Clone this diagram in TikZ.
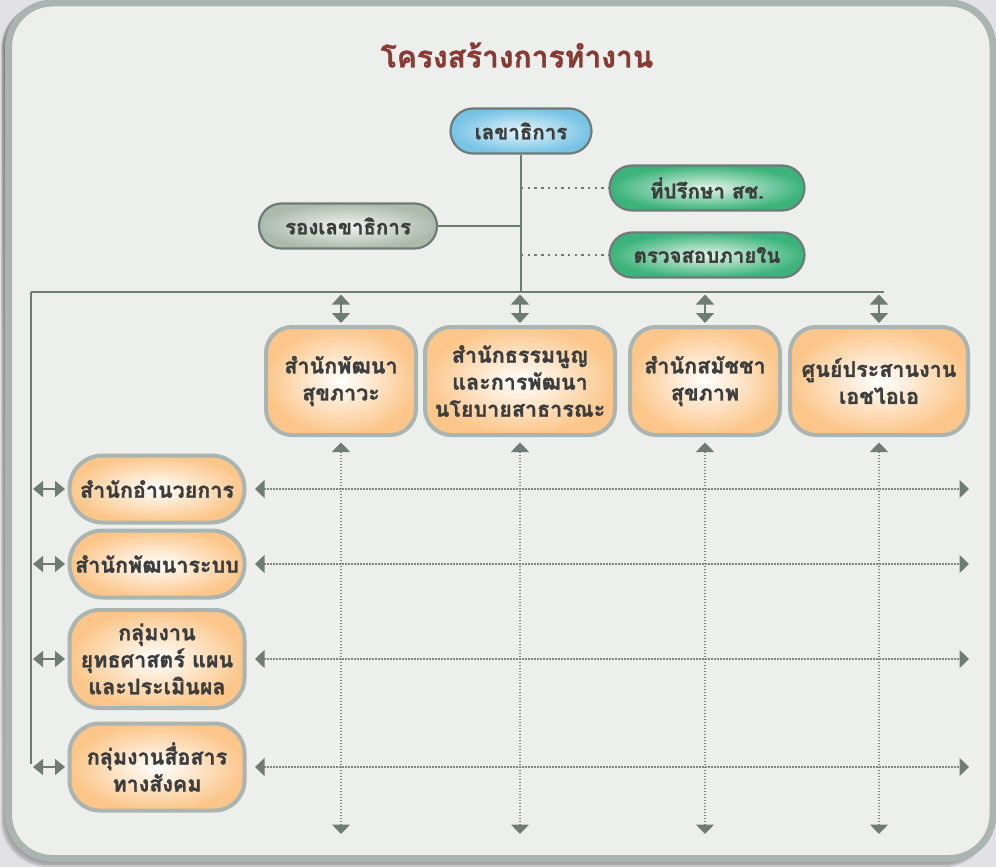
\documentclass[tikz,border=0pt]{standalone}
\usepackage{fontspec}
\newfontfamily\thaifont[Script=Thai, BoldFeatures={FakeBold=1.3}]{Loma}
\usetikzlibrary{arrows.meta}

\definecolor{backdrop}{HTML}{E2E2E6}
\definecolor{shade}{HTML}{8A8A9E}
\definecolor{panel}{HTML}{EDEFEC}
\definecolor{rim}{HTML}{AAB4B0}
\definecolor{wire}{HTML}{6F7B77}
\definecolor{dotc}{HTML}{7D8883}
\definecolor{ink}{HTML}{3B3E3D}
\definecolor{titlered}{HTML}{8A3A34}
\definecolor{peach}{HTML}{FCC68A}
\definecolor{sky}{HTML}{76C3E5}
\definecolor{skylight}{HTML}{E8F5FA}
\definecolor{mint}{HTML}{3BB37A}
\definecolor{mintlight}{HTML}{E4F4EA}
\definecolor{sage}{HTML}{ACBAAC}
\definecolor{sagelight}{HTML}{F3F5F1}

\tikzset{
  txt/.style={font=\thaifont\bfseries\fontsize{21.5}{27}\selectfont, text=ink, align=center},
  pill/.style={txt, font=\thaifont\bfseries\fontsize{20.5}{25}\selectfont,
    rectangle, rounded corners=22.5pt, draw=wire, line width=2.2pt,
    minimum height=45pt, inner sep=2pt, shading=radial},
  bluepill/.style={pill, inner color=skylight, outer color=sky},
  greenpill/.style={pill, inner color=mintlight, outer color=mint},
  graypill/.style={pill, inner color=sagelight, outer color=sage},
  unit/.style={txt, rectangle, draw=rim, line width=4pt, rounded corners=26pt,
    shading=radial, inner color=white, outer color=peach, inner sep=2pt},
  wireline/.style={draw=wire, line width=1.6pt},
  dblv/.style={wireline, {Triangle[width=18pt,length=10pt]}-{Triangle[width=18pt,length=10pt]}},
  dblh/.style={wireline, {Triangle[width=16pt,length=10pt]}-{Triangle[width=16pt,length=10pt]}},
  bigdots/.style={draw=wire, line width=2.4pt, dash pattern=on 2.4pt off 4.3pt},
  griddots/.style={draw=dotc, line width=1.4pt, dash pattern=on 1.4pt off 1.6pt,
    {Triangle[width=18pt,length=9.5pt,color=wire]}-{Triangle[width=18pt,length=9.5pt,color=wire]}},
}

\begin{document}
\begin{tikzpicture}[x=1pt,y=-1pt]
  \useasboundingbox (0,0) rectangle (996,867);
  \fill[backdrop] (0,0) rectangle (996,867);

  % soft shadow under the panel, falling left and down
  \foreach \s in {1,...,8}
    \fill[shade, opacity=0.11, rounded corners=46pt]
      (9-\s,3) rectangle (990,859+\s);

  % panel
  \draw[rim, line width=7pt, fill=panel, rounded corners=44pt]
    (8.5,3) rectangle (993,858.5);

  % title
  \node[font=\thaifont\bfseries\fontsize{30}{35}\selectfont, text=titlered]
    (title) at (517,55) {โครงสร้างการทำงาน};

  % executive level
  \node[bluepill, minimum width=141pt] (sec) at (521,131) {เลขาธิการ};
  \node[greenpill, minimum width=195pt] (adv) at (707,188) {ที่ปรึกษา สช.};
  \node[greenpill, minimum width=195pt] (aud) at (707,255) {ตรวจสอบภายใน};
  \node[graypill, minimum width=178pt] (dep) at (348,226) {รองเลขาธิการ};

  % junctions on the main stem and the bus
  \coordinate (jA) at (521,188);
  \coordinate (jB) at (521,255);
  \coordinate (jD) at (521,226);
  \coordinate (busM) at (521,292);
  \coordinate (busW) at (31,292);
  \coordinate (busE) at (884,292);
  \coordinate (spineS) at (31,764);
  \coordinate (floor) at (0,834);
  \coordinate (edgeR) at (969,0);

  \draw[wireline] (sec.south) -- (busM);
  \draw[wireline] (busW) -- (busE);
  \draw[wireline] (busW) -- (spineS);
  \draw[wireline] (dep.east) -- (jD);
  \draw[bigdots] (jA) -- (adv.west);
  \draw[bigdots] (jB) -- (aud.west);

  % offices
  \node[unit, minimum width=150pt, minimum height=108pt] (u1) at (341,381)
    {สำนักพัฒนา\\สุขภาวะ};
  \node[unit, minimum width=190pt, minimum height=108pt] (u2) at (520,381)
    {สำนักธรรมนูญ\\และการพัฒนา\\นโยบายสาธารณะ};
  \node[unit, minimum width=150pt, minimum height=108pt] (u3) at (705,381)
    {สำนักสมัชชา\\สุขภาพ};
  \node[unit, minimum width=178pt, minimum height=108pt] (u4) at (879,381)
    {ศูนย์ประสานงาน\\เอชไอเอ};

  \node[unit, minimum width=175pt, minimum height=67pt, rounded corners=33pt] (l1) at (157,489)
    {สำนักอำนวยการ};
  \node[unit, minimum width=175pt, minimum height=67pt, rounded corners=33pt] (l2) at (157,564)
    {สำนักพัฒนาระบบ};
  \node[unit, minimum width=175pt, minimum height=98pt, rounded corners=30pt] (l3) at (157,659)
    {กลุ่มงาน\\ยุทธศาสตร์ แผน\\และประเมินผล};
  \node[unit, minimum width=175pt, minimum height=87pt, rounded corners=30pt] (l4) at (157,767)
    {กลุ่มงานสื่อสาร\\ทางสังคม};

  % links from the bus to the offices, and the dotted matrix
  \foreach \u in {u1,u2,u3,u4} {
    \draw[dblv, shorten <=2.5pt, shorten >=2pt] (\u.north |- busW) -- (\u.north);
    \draw[griddots, shorten <=5.5pt] (\u.south) -- (\u.south |- floor);
  }
  \foreach \l in {l1,l2,l3,l4} {
    \draw[dblh, shorten <=2pt, shorten >=2.5pt] (busW |- \l.west) -- (\l.west);
    \draw[griddots, shorten <=8.5pt] (\l.east) -- (\l.east -| edgeR);
  }
\end{tikzpicture}
\end{document}
